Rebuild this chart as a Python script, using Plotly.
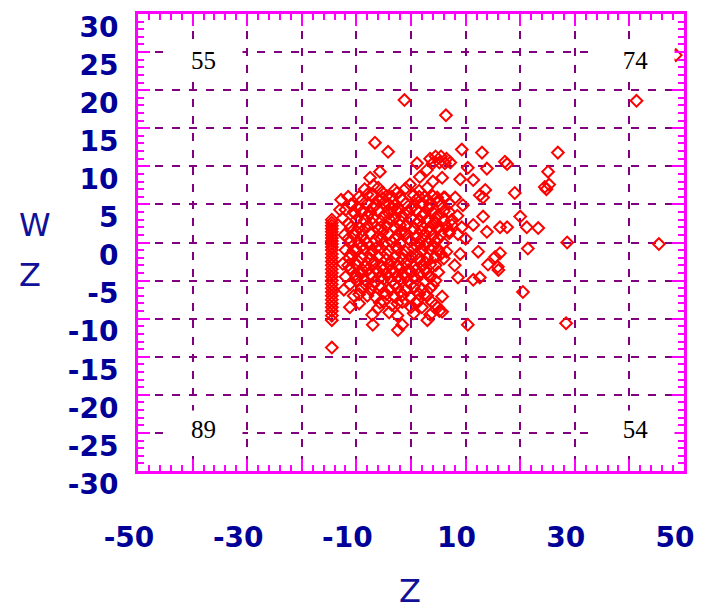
import plotly.graph_objects as go

# ---- data ----
column_pts = [(-14.5, 3.0), (-14.5, 2.6), (-14.5, 2.2), (-14.5, 1.8), (-14.5, 1.4), (-14.5, 1.0),
              (-14.5, 0.6), (-14.5, 0.2), (-14.5, -0.2), (-14.5, -0.6), (-14.5, -1.0), (-14.5, -1.5),
              (-14.5, -2.0), (-14.5, -2.5), (-14.5, -3.0), (-14.5, -3.5), (-14.5, -4.0), (-14.5, -4.5),
              (-14.5, -5.0), (-14.5, -5.5), (-14.5, -6.0), (-14.5, -6.5), (-14.5, -7.0), (-14.5, -7.5),
              (-14.5, -8.0), (-14.5, -8.5), (-14.5, -9.0), (-14.5, -9.6), (-14.5, -10.2), (-14.5, -13.8)]

left_pts = [(-12.8, 5.6), (-13.0, 4.3), (-12.0, 4.3), (-12.5, 3.2), (-11.5, 2.5), (-12.2, 1.0),
            (-11.0, 0.2), (-12.0, -1.0), (-11.3, -2.0), (-12.5, -2.8), (-11.0, -3.5), (-12.0, -4.5),
            (-11.2, -5.5), (-12.3, -6.2), (-11.2, -8.5), (-10.5, -7.0), (-10.2, -4.2), (-10.5, -1.0),
            (-10.0, 1.5), (-10.3, 3.8), (-10.8, 5.0)]

core_pts = [(-8.5, 7.0), (-6.0, 7.2), (-3.0, 6.9), (-1.0, 7.1), (1.5, 6.8), (3.0, 7.2),
            (-9.5, 6.0), (-4.5, 6.1), (-2.0, 5.9), (0.5, 6.2), (2.5, 6.0), (4.0, 6.1), (6.0, 5.9),
            (-11.0, 5.0), (-8.0, 5.1), (-6.5, 4.9), (-5.0, 5.2), (-3.0, 4.9), (-1.0, 5.1), (0.5, 4.8),
            (2.0, 5.2), (3.5, 5.0), (5.5, 4.9), (7.0, 5.1),
            (-9.0, 4.0), (-7.5, 3.9), (-6.0, 4.2), (-4.0, 3.8), (-2.5, 4.1), (-0.5, 3.9), (1.0, 4.2),
            (2.5, 3.8), (4.0, 4.0), (6.0, 4.1),
            (-10.0, 3.0), (-8.5, 2.9), (-7.0, 3.2), (-5.5, 2.8), (-4.0, 3.1), (-2.0, 2.9), (0.0, 3.2),
            (1.5, 2.8), (3.0, 3.0), (4.5, 3.2), (6.0, 2.9), (7.5, 3.0),
            (-9.5, 2.0), (-8.0, 2.1), (-6.0, 1.8), (-4.5, 2.2), (-3.0, 1.9), (-1.0, 2.1), (0.5, 1.8),
            (2.0, 2.2), (3.5, 2.0), (5.0, 1.9), (6.5, 2.1),
            (-10.5, 1.0), (-9.0, 0.9), (-7.5, 1.2), (-6.0, 0.8), (-4.0, 1.1), (-2.5, 0.9), (-1.0, 1.2),
            (1.0, 0.8), (2.5, 1.1), (4.0, 0.9), (5.5, 1.0), (7.0, 1.2),
            (-9.5, 0.0), (-8.0, -0.1), (-6.5, 0.2), (-5.0, -0.2), (-3.5, 0.1), (-2.0, -0.1), (0.0, 0.2),
            (1.5, -0.2), (3.0, 0.0), (4.5, 0.1), (6.0, -0.1),
            (-10.0, -1.0), (-8.5, -0.9), (-7.0, -1.2), (-5.5, -0.8), (-4.0, -1.1), (-2.5, -0.9),
            (-1.0, -1.2), (0.5, -0.8), (2.0, -1.1), (3.5, -0.9), (5.0, -1.0), (6.5, -1.2),
            (-9.0, -2.0), (-7.5, -2.1), (-6.0, -1.8), (-4.5, -2.2), (-3.0, -1.9), (-1.5, -2.1),
            (0.0, -1.8), (1.5, -2.2), (3.0, -2.0), (4.5, -1.9), (6.0, -2.1),
            (-10.0, -3.0), (-8.5, -3.1), (-7.0, -2.8), (-5.5, -3.2), (-4.0, -2.9), (-2.5, -3.1),
            (-1.0, -2.8), (0.5, -3.2), (2.0, -3.0), (3.5, -2.9),
            (-9.0, -4.0), (-7.5, -4.2), (-6.0, -3.8), (-4.5, -4.1), (-3.0, -3.9), (-1.5, -4.2),
            (0.0, -3.8), (1.5, -4.1), (3.0, -4.0), (5.0, -3.9),
            (-10.0, -5.0), (-8.5, -4.9), (-6.5, -5.2), (-5.0, -4.8), (-3.5, -5.1), (-2.0, -4.9),
            (-0.5, -5.2), (1.0, -4.8), (2.5, -5.1), (4.5, -5.0),
            (-9.0, -6.0), (-7.5, -6.2), (-5.5, -5.8), (-4.0, -6.1), (-2.5, -5.9), (-1.0, -6.2),
            (0.5, -5.8), (2.0, -6.1), (3.5, -6.0),
            (-8.0, -7.0), (-6.5, -7.2), (-4.5, -6.8), (-3.0, -7.1), (-1.5, -6.9), (0.0, -7.2),
            (1.5, -6.8), (3.0, -7.0),
            (-9.5, -8.0), (-5.7, -7.9), (-3.5, -8.2), (-1.6, -7.8), (0.0, -8.5), (2.0, -8.5), (4.5, -8.2),
            (-7.1, -9.5), (-4.0, -9.2), (-2.5, -9.6), (0.5, -9.3), (3.5, -9.5), (5.2, -9.0),
            (-7.0, -10.8), (-2.4, -11.5), (-1.6, -10.8), (3.0, -10.2)]

core_extra_pts = [(-8.0, 6.3), (-5.2, 5.8), (-2.6, 6.5), (1.0, 5.6), (-9.8, 4.6), (-7.0, 4.6), (-3.5, 4.4),
                  (-1.6, 3.5), (3.2, 4.5), (-8.8, 1.6), (-5.2, 1.4), (-1.8, 1.5), (1.8, 1.5), (4.6, 2.6),
                  (-9.0, -0.5), (-6.2, -0.6), (-2.8, -0.5), (1.0, -0.5), (4.0, -0.6), (-9.6, -2.5),
                  (-6.6, -2.6), (-3.6, -2.5), (-0.5, -2.4), (2.6, -2.6), (-8.0, -3.6), (-5.0, -3.5),
                  (-2.0, -3.4), (1.0, -3.5), (-7.0, -4.5), (-4.0, -4.6), (-1.0, -4.5), (-8.2, -5.6),
                  (-5.0, -6.6), (-2.0, -6.5), (1.2, -7.6), (-6.0, -8.6)]

core_dense_pts = [(-11.5, 6.0), (-9.0, 5.5), (-6.0, 5.6), (-4.0, 5.0), (-1.5, 5.6), (1.5, 6.0), (3.0, 5.6),
                  (5.0, 5.5), (-10.5, 4.0), (-8.0, 3.5), (-5.0, 3.5), (-3.0, 3.3), (0.0, 4.5), (2.0, 3.5),
                  (5.0, 3.6), (7.0, 4.0), (-11.0, 2.0), (-7.0, 2.5), (-5.5, 2.0), (-2.0, 2.3), (1.0, 2.5),
                  (4.0, 2.4), (7.5, 2.3), (-11.5, 0.5), (-8.5, 0.3), (-5.5, 0.5), (-3.0, 0.5), (-0.5, 0.5),
                  (2.0, 0.5), (3.5, 1.5), (5.0, 0.5), (-11.0, -1.5), (-7.5, -1.5), (-4.5, -1.5),
                  (-1.5, -1.5), (1.0, -1.5), (2.5, -0.4), (5.5, -1.5), (-11.5, -3.0), (-9.0, -3.5),
                  (-6.5, -3.5), (-3.5, -3.5), (-0.5, -3.6), (2.5, -3.5), (4.5, -3.0), (-10.0, -4.5),
                  (-5.5, -4.5), (-2.5, -4.5), (0.5, -4.5), (3.5, -4.6), (-9.5, -6.8), (-7.0, -5.6),
                  (-3.0, -5.5), (0.0, -5.5), (2.5, -6.8), (-5.0, -7.8), (-2.5, -8.0), (1.0, -8.0),
                  (3.8, -7.8)]

outer_pts = [(-6.6, 13.1), (-4.2, 11.9), (-7.5, 8.5), (-5.7, 9.3), (-5.3, 6.6), (-7.1, 6.2),
             (-6.9, 7.5), (-3.5, 6.0), (-2.4, 4.5), (1.1, 10.4), (1.6, 8.6), (2.9, 9.5), (-0.2, 7.6),
             (4.0, 8.0), (-1.2, 18.7), (6.4, 16.7), (9.3, 12.2), (13.0, 11.8), (17.2, 10.6),
             (3.5, 11.0), (4.5, 11.3), (5.5, 11.3), (6.5, 11.0), (4.0, 10.4), (5.2, 10.5), (6.2, 10.4),
             (7.2, 10.5), (10.4, 9.8), (13.9, 9.7), (5.7, 8.5), (9.0, 8.3), (11.4, 8.2), (13.6, 6.9),
             (12.6, 6.2), (19.0, 6.5), (6.2, 5.9), (8.1, 5.9), (4.8, 5.9), (9.5, 4.9), (13.2, 5.9),
             (13.2, 3.4), (20.0, 3.4), (21.2, 2.0), (23.3, 1.9), (9.3, 2.0), (11.4, 2.3), (13.9, 1.4),
             (16.3, 2.0), (17.6, 2.0), (7.0, 1.5), (8.6, 1.1), (17.6, 10.3), (26.9, 11.8), (25.1, 9.3),
             (24.5, 7.3), (25.3, 7.6), (24.8, 7.0), (41.3, 18.6), (48.5, 24.6), (45.4, -0.2),
             (28.6, 0.0), (28.4, -10.6), (20.5, -6.5), (10.4, -10.8), (21.4, -0.8), (12.3, -1.2),
             (15.4, -1.9), (14.1, -2.9), (15.9, -3.2), (12.6, -4.6), (11.4, -4.9), (8.6, -4.6),
             (4.0, -5.6), (5.7, -7.1), (5.7, -9.1), (4.9, -8.5), (16.3, -1.4), (16.0, -3.6),
             (9.0, -1.5), (8.0, -3.0), (10.0, 0.5), (8.5, 3.5)]

x_tick_vals = [-50, -40, -30, -20, -10, 0, 10, 20, 30, 40, 50]
x_tick_text = ["-50", "", "-30", "", "-10", "", "10", "", "30", "", "50"]
y_tick_vals = [-30, -25, -20, -15, -10, -5, 0, 5, 10, 15, 20, 25, 30]
y_tick_text = ["-30", "-25", "-20", "-15", "-10", "-5", "0", "5", "10", "15", "20", "25", "30"]

corner_labels = ["55", "74", "89", "54"]
corner_x = [-38, 41.2, -38, 41.2]
corner_y = [24, 24, -24.5, -24.5]

all_pts = column_pts + left_pts + core_pts + core_extra_pts + core_dense_pts + outer_pts
xs = [p[0] for p in all_pts]
ys = [p[1] for p in all_pts]

TICK_COLOR = "#000099"
TITLE_COLOR = "#101098"
FRAME = "#ff00ff"
GRID = "#800080"

# page has an 8px body margin; plot area in page pixels: left 138, top 14, right 684, bottom 471
PAGE_OFF = 8
PL, PT, PR, PB = 138, 14, 684, 471
W, H = 704 - PAGE_OFF, 610 - PAGE_OFF
L, T = PL - PAGE_OFF, PT - PAGE_OFF
R = W - (PR - PAGE_OFF)
B = H - (PB - PAGE_OFF)
pw, ph = PR - PL, PB - PT

fig = go.Figure()
fig.add_trace(go.Scatter(
    x=xs, y=ys, mode="markers",
    marker=dict(symbol="diamond-open", size=9, color="#ff0000", line=dict(width=2, color="#ff0000")),
    showlegend=False, cliponaxis=True,
))

for t, cx, cy in zip(corner_labels, corner_x, corner_y):
    fig.add_annotation(x=cx, y=cy, xref="x", yref="y", text=t, showarrow=False,
                       width=75, height=34, bgcolor="white",
                       font=dict(family="Liberation Serif", size=25, color="black"))

axis_common = dict(
    showline=True, linecolor=FRAME, linewidth=3, mirror="ticks",
    ticks="inside", ticklen=12, tickwidth=2, tickcolor=FRAME,
    showgrid=True, gridcolor=GRID, gridwidth=2, griddash="8px,9px",
    zeroline=False, automargin=False,
    tickfont=dict(family="DejaVu Sans", size=28, color=TICK_COLOR, weight="bold"),
    tickmode="array",
)

fig.update_xaxes(
    **axis_common, range=[-50, 50], tickvals=x_tick_vals, ticktext=x_tick_text,
    minor=dict(dtick=2, tick0=0, ticks="inside", ticklen=6, tickwidth=2, tickcolor=FRAME, showgrid=False),
    ticklabelstandoff=39, ticklabelshift=-9,
)
fig.update_yaxes(
    **axis_common, range=[-30, 30], tickvals=y_tick_vals, ticktext=y_tick_text,
    minor=dict(dtick=1, tick0=0, ticks="inside", ticklen=6, tickwidth=2, tickcolor=FRAME, showgrid=False),
    ticklabelstandoff=11, ticklabelshift=13,
)

# axis titles placed in page pixels relative to the plot area
for txt, px, py, anchor in [("W", 17, 225, "left"), ("Z", 17, 275, "left"), ("Z", 410, 591, "center")]:
    fig.add_annotation(x=(px - PL) / pw, y=1 - (py - PT) / ph, xref="paper", yref="paper",
                       xanchor=anchor, yanchor="middle", text=txt, showarrow=False,
                       font=dict(family="DejaVu Sans", size=32, color=TITLE_COLOR))

fig.update_layout(
    width=W, height=H,
    margin=dict(l=L, r=R, t=T, b=B),
    plot_bgcolor="white", paper_bgcolor="white",
)

fig.write_html("out.html")
